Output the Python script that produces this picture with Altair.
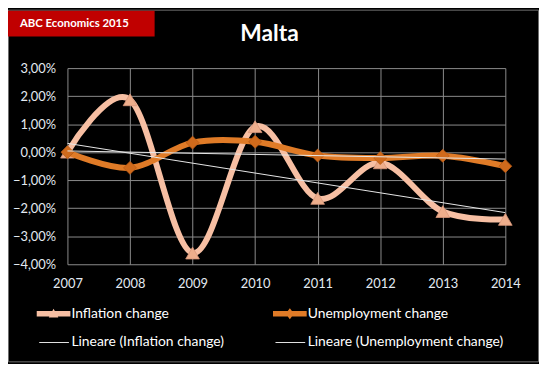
import altair as alt
import pandas as pd

years = [2007, 2008, 2009, 2010, 2011, 2012, 2013, 2014]
inflation_pct = [0.0, 1.87, -3.6, 0.91, -1.65, -0.38, -2.12, -2.4]
unemployment_pct = [0.0, -0.56, 0.34, 0.37, -0.12, -0.21, -0.13, -0.5]
y_ticks = [-0.04, -0.03, -0.02, -0.01, 0.0, 0.01, 0.02, 0.03]
# legend order (filled column by column): left column, then right column
series_names = ["Inflation change", "Lineare (Inflation change)",
                "Unemployment change", "Lineare (Unemployment change)"]
chart_title = "Malta"
badge_text = "ABC Economics 2015"

INF_COLOR = "#f7bfa3"
INF_MARK = "#eeae8c"
UNE_COLOR = "#e07b27"
UNE_MARK = "#cf6a1c"
TREND_COLOR = "#e8e8e8"
LABEL_COLOR = "#e3eaf2"
FONT = "Lato"

df_inf = pd.DataFrame({"year": years, "value": [v / 100 for v in inflation_pct]})
df_une = pd.DataFrame({"year": years, "value": [v / 100 for v in unemployment_pct]})
df_leg = pd.DataFrame({"series": series_names})
df_badge = pd.DataFrame({"t": [badge_text]})
df_title = pd.DataFrame({"t": [chart_title]})

x_enc = alt.X("year:Q",
              scale=alt.Scale(domain=[2007, 2014], nice=False, zero=False),
              axis=alt.Axis(values=years, format="d", title=None, labelColor=LABEL_COLOR,
                            labelFont=FONT, labelFontSize=13, labelPadding=13, ticks=False,
                            domain=False, grid=True, gridColor="#8c8c8c", labelFlush=False))
y_enc = alt.Y("value:Q",
              scale=alt.Scale(domain=[-0.04, 0.03], nice=False, zero=False),
              axis=alt.Axis(values=y_ticks, title=None, labelColor=LABEL_COLOR,
                            labelFont=FONT, labelFontSize=13, labelPadding=12, ticks=False,
                            domain=False, grid=True, gridColor="#8c8c8c",
                            labelExpr="replace(format(datum.value, '.2%'), '.', ',')"))

inf_line = alt.Chart(df_inf).mark_line(interpolate="cardinal", color=INF_COLOR,
                                       strokeWidth=6).encode(x=x_enc, y=y_enc)
inf_pts = alt.Chart(df_inf).mark_point(shape="triangle-up", filled=True, size=190,
                                       fill=INF_MARK, stroke="#d8967a", strokeWidth=0.8,
                                       opacity=1).encode(x=x_enc, y=y_enc)
une_line = alt.Chart(df_une).mark_line(interpolate="cardinal", color=UNE_COLOR,
                                       strokeWidth=6).encode(x=x_enc, y=y_enc)
une_pts = alt.Chart(df_une).mark_point(shape="diamond", filled=True, size=170,
                                       fill=UNE_MARK, stroke="#b85a14", strokeWidth=0.8,
                                       opacity=1).encode(x=x_enc, y=y_enc)
inf_trend = alt.Chart(df_inf).transform_regression("year", "value").mark_line(
    color=TREND_COLOR, strokeWidth=1).encode(x=x_enc, y=y_enc)
une_trend = alt.Chart(df_une).transform_regression("year", "value").mark_line(
    color=TREND_COLOR, strokeWidth=1).encode(x=x_enc, y=y_enc)

path_inf = ("M-1.7,-0.28L1.7,-0.28L1.7,0.28L-1.7,0.28Z "
            "M0,-0.5L0.48,0.38L-0.48,0.38Z")
path_une = ("M-1.7,-0.28L1.7,-0.28L1.7,0.28L-1.7,0.28Z "
            "M0,-0.55L0.42,0L0,0.55L-0.42,0Z")
path_trend = "M-1.45,-0.05L1.55,-0.05L1.55,0.05L-1.45,0.05Z"

legend = alt.Legend(orient="none", legendX=-24, legendY=238, columns=2,
                    columnPadding=48.5, rowPadding=12, symbolSize=400, labelOffset=8,
                    labelColor="#ffffff", labelFont=FONT, labelFontSize=14, title=None,
                    labelLimit=400, symbolStrokeWidth=0, symbolOpacity=1, padding=0)
legend_layer = alt.Chart(df_leg).mark_point(filled=True, opacity=0).encode(
    shape=alt.Shape("series:N", sort=series_names, scale=alt.Scale(domain=series_names,
                    range=[path_inf, path_trend, path_une, path_trend]), legend=legend),
    fill=alt.Fill("series:N", sort=series_names, scale=alt.Scale(domain=series_names,
                  range=[INF_COLOR, TREND_COLOR, UNE_COLOR, TREND_COLOR]), legend=legend),
)

badge_box = alt.Chart(df_badge).mark_rect(color="#c00000").encode(
    x=alt.value(-61), x2=alt.value(88), y=alt.value(-58), y2=alt.value(-32))
badge_txt = alt.Chart(df_badge).mark_text(align="left", baseline="middle", color="white",
                                          font=FONT, fontWeight="bold", fontSize=11.5).encode(
    x=alt.value(-48), y=alt.value(-44), text="t:N")
title_txt = alt.Chart(df_title).mark_text(align="center", baseline="middle", color="white",
                                          font=FONT, fontWeight="bold", fontSize=23).encode(
    x=alt.value(204), y=alt.value(-34), text="t:N")
border = alt.Chart(df_badge).mark_rect(fillOpacity=0, stroke="#707070", strokeWidth=1).encode(
    x=alt.value(-59.5), x2=alt.value(475.5), y=alt.value(-58.5), y2=alt.value(296.5))

chart = alt.layer(border, badge_box, badge_txt, title_txt, inf_line, inf_pts, une_line,
                  une_pts, inf_trend, une_trend, legend_layer).properties(
    width=442, height=198,
    autosize=alt.AutoSizeParams(type="none"),
    padding={"left": 60, "top": 59, "right": 34, "bottom": 99},
    background="black",
).configure_view(fill="#404040", stroke=None)

chart.save("out.html", embed_options={"renderer": "svg", "actions": False})
